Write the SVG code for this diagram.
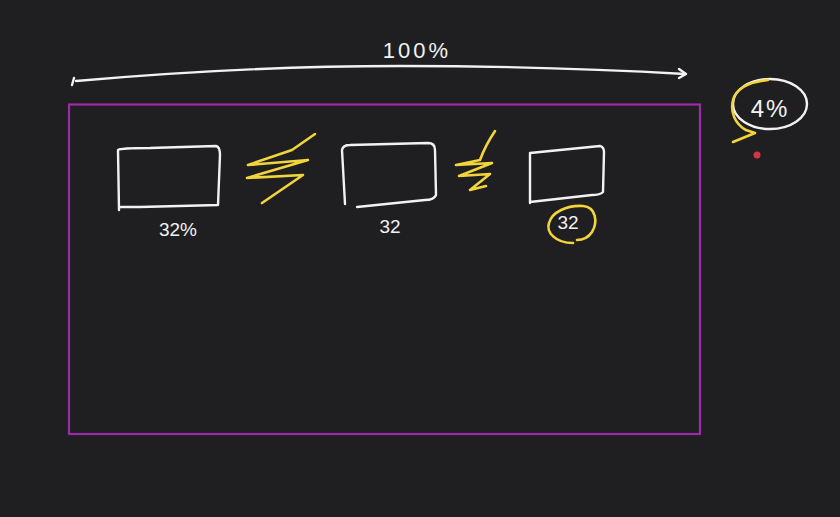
<svg xmlns="http://www.w3.org/2000/svg" width="840" height="517" viewBox="0 0 840 517">
<style>
.w{fill:none;stroke:#f2f2f2;stroke-width:2.4;stroke-linecap:round;stroke-linejoin:round}
.y{fill:none;stroke:#f1d53a;stroke-width:2.6;stroke-linecap:round;stroke-linejoin:round}
.t{fill:#f2f2f2;font-family:"Liberation Sans",Arial,sans-serif;text-anchor:middle}
</style>
<rect width="840" height="517" fill="#1f1f21"/>
<g id="frame"><rect x="69" y="104.5" width="631" height="329.5" fill="none" stroke="#9d2aa9" stroke-width="2.2"/></g>
<g id="connectors">
<path class="w" d="M76 81 C200 70 300 66 400 66 C500 66 600 69 685 74"/>
<path class="w" d="M74 78 L72 85"/>
<path class="w" d="M679 69 L686 74 L679 78"/>
</g>
<g id="label-100"><text class="t" x="417" y="58" font-size="22" letter-spacing="3">100%</text></g>
<g id="box1"><path class="w" d="M119 210 L118 150 Q120 148 150 148 L216 146 Q220 147 220 155 L218 205 L140 207 L121 207"/><text class="t" x="178" y="236" font-size="19">32%</text></g>
<g id="box2"><path class="w" d="M345 204 L342 150 Q343 145 350 145 L428 143 Q435 143 435 150 L436 195 Q434 200 425 200 L357 207"/><text class="t" x="390" y="233" font-size="19">32</text></g>
<g id="box3"><path class="w" d="M530 203 L530 153 L600 146 Q604 147 604 152 L603 192 Q600 195 592 195 L530 202"/><text class="t" x="568" y="229" font-size="19">32</text><path class="y" d="M573 243 C555 243 546 232 549 223 C552 212 567 205 583 206 C596 207 598 222 592 232 C588 238 582 240 577 240"/></g>
<g id="scribble1"><path class="y" d="M315 134 L292 150 L248 165 L308 160 L247 178 L303 175 L262 203"/></g>
<g id="scribble2"><path class="y" d="M495 131 Q485 146 480 160 L456 165 L492 163 L459 176 L490 174 L470 190 L486 186"/></g>
<g id="note-4"><ellipse class="w" cx="770" cy="104" rx="37" ry="25"/><path class="y" d="M768 80 C750 82 736 88 733 100 C730 112 735 124 746 130 L755 133 L733 142"/><text class="t" x="770" y="117" font-size="24" letter-spacing="2">4%</text></g>
<circle cx="757" cy="155" r="3.5" fill="#e2394c" opacity="0.9"/>
</svg>
